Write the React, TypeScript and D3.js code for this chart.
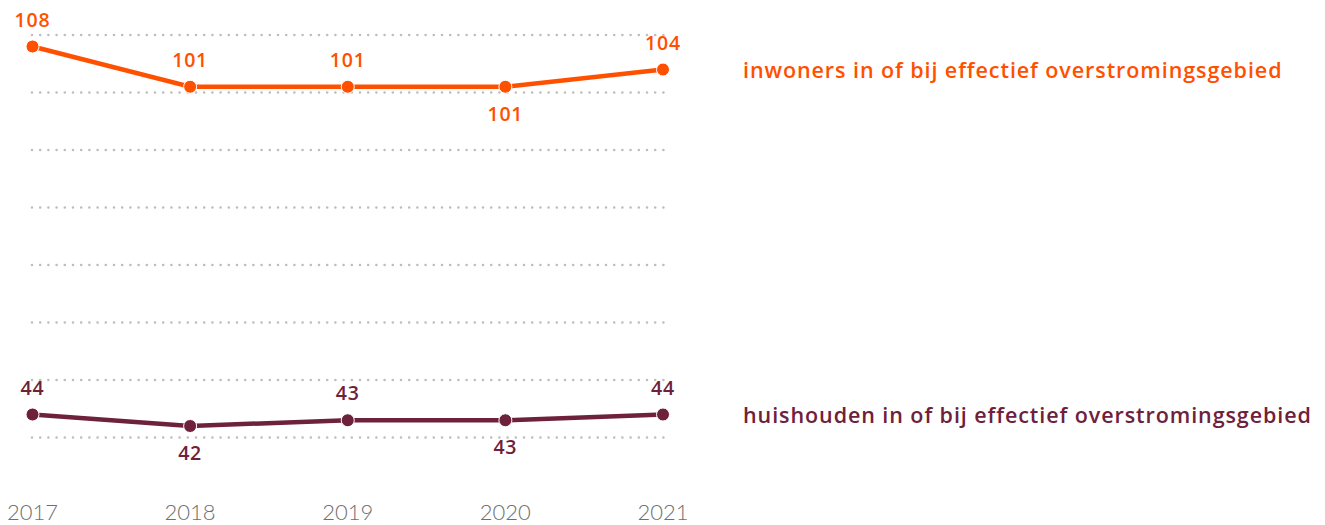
import React from "react";
import * as d3 from "d3";

const years = ["2017", "2018", "2019", "2020", "2021"];
const inwoners = [108, 101, 101, 101, 104];
const huishouden = [44, 42, 43, 43, 44];
const inwonersLabelPos = ["above", "above", "above", "below", "above"];
const huishoudenLabelPos = ["above", "below", "above", "below", "above"];
const gridValues = [110, 100, 90, 80, 70, 60, 50, 40];
const seriesNames = [
  "inwoners in of bij effectief overstromingsgebied",
  "huishouden in of bij effectief overstromingsgebied",
];

const W = 1325;
const H = 525;
const FONT = "'Open Sans', Lato, sans-serif";

export default function App() {
  const x = d3.scalePoint<string>().domain(years).range([32.5, 663]);
  const y = d3.scaleLinear().domain([40, 110]).range([437.5, 35]);

  const series = [
    { name: seriesNames[0], values: inwoners, pos: inwonersLabelPos, color: "#ff5000" },
    { name: seriesNames[1], values: huishouden, pos: huishoudenLabelPos, color: "#6e213a" },
  ];

  const line = d3
    .line<number>()
    .x((_, i) => x(years[i]) as number)
    .y((d) => y(d));

  return (
    <svg
      width={W}
      height={H}
      style={{ position: "absolute", left: 0, top: 0, display: "block" }}
      fontFamily={FONT}
    >
      {gridValues.map((g) => (
        <line
          key={g}
          x1={32}
          x2={666}
          y1={y(g)}
          y2={y(g)}
          stroke="#bdbdbd"
          strokeWidth={2.6}
          strokeLinecap="round"
          strokeDasharray="0 8.2"
        />
      ))}
      {years.map((yr) => (
        <text
          key={yr}
          x={x(yr)}
          y={520}
          textAnchor="middle"
          fontFamily="Lato, sans-serif"
          fontSize={22}
          fontWeight={300}
          fill="#6f6f6f"
        >
          {yr}
        </text>
      ))}
      {series.map((s) => (
        <g key={s.name}>
          <path d={line(s.values) || ""} fill="none" stroke={s.color} strokeWidth={4.5} />
          {s.values.map((v, i) => (
            <circle
              key={i}
              cx={x(years[i])}
              cy={y(v)}
              r={6.5}
              fill={s.color}
              stroke="#fff"
              strokeWidth={1}
            />
          ))}
          {s.values.map((v, i) => (
            <text
              key={"l" + i}
              x={x(years[i])}
              y={s.pos[i] === "above" ? y(v) - 20 : y(v) + 34}
              textAnchor="middle"
              fontSize={19.5}
              fontWeight={600}
              letterSpacing={0.8}
              fill={s.color}
            >
              {v}
            </text>
          ))}
          <text
            x={743}
            y={y(s.values[s.values.length - 1]) + 8}
            fontSize={21.5}
            fontWeight={600}
            letterSpacing={0.92}
            fill={s.color}
          >
            {s.name}
          </text>
        </g>
      ))}
    </svg>
  );
}
